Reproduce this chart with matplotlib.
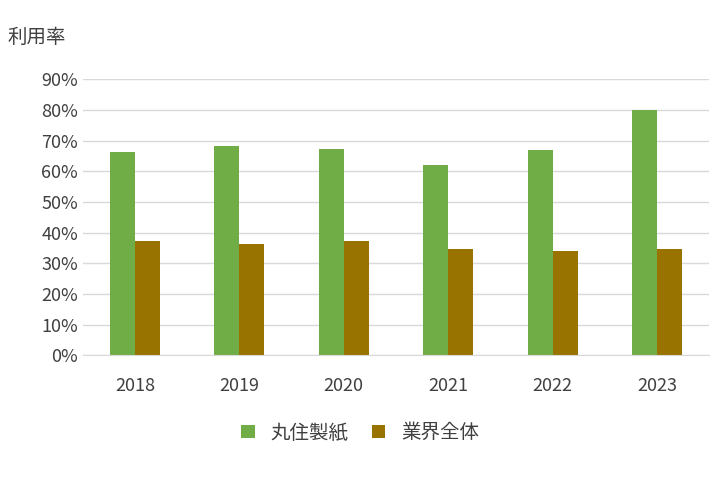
import matplotlib.pyplot as plt
import numpy as np

plt.rcParams['font.family'] = ['Noto Sans CJK JP', 'DejaVu Sans']

years = ['2018', '2019', '2020', '2021', '2022', '2023']
marusumi = [66.3, 68.2, 67.3, 62.0, 66.9, 80.0]
industry = [37.2, 36.3, 37.2, 34.6, 34.0, 34.7]

fig = plt.figure(figsize=(7.2, 4.8), dpi=100)
ax = fig.add_axes([0.115, 0.26, 0.87, 0.575])

x = np.arange(len(years))
w = 0.24
ax.bar(x - w / 2, marusumi, w, color='#70ad47', label='丸住製紙', zorder=2)
ax.bar(x + w / 2, industry, w, color='#997300', label='業界全体', zorder=2)

ax.set_xlim(-0.5, len(years) - 0.5)
ax.set_ylim(0, 90)
ax.set_yticks(range(0, 91, 10))
ax.set_yticklabels([f'{v}%' for v in range(0, 91, 10)])
ax.set_xticks(x)
ax.set_xticklabels(years)
ax.tick_params(length=0, labelsize=13, colors='#404040')
ax.tick_params(axis='x', pad=16)
ax.grid(axis='y', color='#d9d9d9', linewidth=1, zorder=0)
for s in ['top', 'right', 'left']:
    ax.spines[s].set_visible(False)
ax.spines['bottom'].set_color('#d9d9d9')

fig.text(0.01, 0.91, '利用率', fontsize=14, color='#404040')
fig.legend(loc='lower center', bbox_to_anchor=(0.5, 0.04), ncol=2, frameon=False,
           fontsize=14, handlelength=0.7, handleheight=0.7, columnspacing=1.2,
           labelcolor='#404040')

fig.savefig('out.png')
